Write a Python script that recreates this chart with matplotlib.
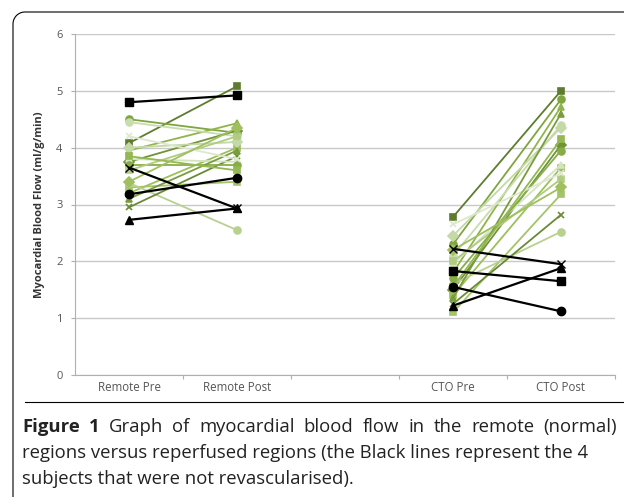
import matplotlib.pyplot as plt
from matplotlib.lines import Line2D
import numpy as np

categories = ['Remote Pre', 'Remote Post', '', 'CTO Pre', 'CTO Post']

# revascularised subjects (green)
remote_pre = [4.08, 4.50, 3.95, 4.45, 3.75, 3.20, 3.30, 3.38, 2.95, 3.80, 4.00, 3.70, 3.60, 3.10, 4.20, 3.85, 3.40]
remote_post = [5.08, 4.26, 4.43, 4.20, 4.30, 4.00, 3.40, 2.55, 3.85, 3.75, 4.10, 3.70, 4.20, 3.95, 3.80, 3.60, 4.35]
cto_pre = [2.78, 2.30, 1.80, 2.10, 1.50, 1.40, 1.10, 1.60, 1.25, 1.95, 2.45, 1.70, 2.00, 1.35, 2.65, 1.55, 2.20]
cto_post = [5.00, 4.85, 4.72, 4.40, 4.05, 3.65, 3.18, 2.52, 2.82, 3.70, 4.35, 3.95, 3.45, 4.60, 3.55, 4.15, 3.30]
green_colors = ['#5d7c2e', '#7ea63e', '#8fb54a', '#c9dcae', '#6e9436', '#9cc05a', '#a4c46a', '#b8d090',
                '#6a8a38', '#d4e4c0', '#c4d8a8', '#88ac48', '#b0cc80', '#7a9c40', '#dde8cc', '#94b852', '#a0c060']
green_markers = ['s', 'o', '^', 'o', 'D', 's', 's', 'o', 'x', '^', 'D', 'o', 's', '^', 'x', 's', 'D']

# not revascularised (black)
blk_remote_pre = [4.80, 3.18, 2.73, 3.65]
blk_remote_post = [4.92, 3.47, 2.93, 2.93]
blk_cto_pre = [1.83, 1.55, 1.22, 2.22]
blk_cto_post = [1.65, 1.12, 1.88, 1.95]
blk_markers = ['s', 'o', '^', 'x']

W, H = 624, 497
fig = plt.figure(figsize=(W / 100, H / 100), dpi=100)
ax = fig.add_axes([75 / W, 1 - 375 / H, 540 / W, 341 / H])

for i in range(len(remote_pre)):
    for xs, ys in (([0, 1], [remote_pre[i], remote_post[i]]), ([3, 4], [cto_pre[i], cto_post[i]])):
        ax.plot(xs, ys, color=green_colors[i], marker=green_markers[i], ms=5, lw=1.3,
                mew=1.2, zorder=2)

for i in range(len(blk_remote_pre)):
    for xs, ys in (([0, 1], [blk_remote_pre[i], blk_remote_post[i]]), ([3, 4], [blk_cto_pre[i], blk_cto_post[i]])):
        ax.plot(xs, ys, color='black', marker=blk_markers[i], ms=6, lw=1.6, mew=1, zorder=3)

ax.set_xlim(-0.5, 4.5)
ax.set_ylim(0, 6)
ax.set_yticks(range(7))
ax.yaxis.grid(True, color='#c8c8c8', lw=1)
ax.set_axisbelow(True)
for s in ['top', 'right']:
    ax.spines[s].set_visible(False)
for s in ['left', 'bottom']:
    ax.spines[s].set_color('#b0b0b0')
ax.set_xticks(np.arange(0.5, 5, 1))
ax.set_xticklabels([])
ax.set_xticks(range(5), minor=True)
ax.set_xticklabels(categories, minor=True, fontsize=8.3, color='#555555', family='Open Sans')
ax.tick_params(axis='x', which='major', length=3, color='#b0b0b0')
ax.tick_params(axis='x', which='minor', length=0, pad=4)
ax.tick_params(axis='y', length=3, color='#b0b0b0', labelsize=8, labelcolor='#555555', pad=6)
for lab in ax.get_yticklabels():
    lab.set_family('Open Sans')
ax.set_ylabel('Myocardial Blood Flow (ml/g/min)', fontsize=8, fontweight='bold',
              color='#333333', family='Open Sans', labelpad=8)

# frame around figure
r = 12
t = np.linspace(np.pi, 1.5 * np.pi, 20)
arc_x = 13 + r + r * np.cos(t)
arc_y = 12 + r + r * np.sin(t)
fx = np.concatenate([[13], arc_x, [W]])
fy = np.concatenate([[H], arc_y, [12]])
fig.add_artist(Line2D(fx / W, 1 - fy / H, color='black', lw=0.8))
fig.add_artist(Line2D([25 / W, 1], [1 - 402 / H] * 2, color='black', lw=0.8))

# caption, first line justified
renderer = fig.canvas.get_renderer()
cap_kw = dict(fontsize=13.3, family='Open Sans', color='#222222', va='baseline')

def justified(words, y, x0, x1):
    texts = []
    for w, bold in words:
        texts.append(fig.text(0, 1 - y / H, w, fontweight='bold' if bold else 'normal', **cap_kw))
    widths = [t.get_window_extent(renderer).width for t in texts]
    gap = (x1 - x0 - sum(widths)) / (len(texts) - 1)
    x = x0
    for t, wd in zip(texts, widths):
        t.set_x(x / W)
        x += wd + gap

line1 = [('Figure', True), ('1', True)] + [(w, False) for w in
         'Graph of myocardial blood flow in the remote (normal)'.split()]
justified(line1, 432, 22, 617)
fig.text(22 / W, 1 - 458 / H, 'regions versus reperfused regions (the Black lines represent the 4', **cap_kw)
fig.text(22 / W, 1 - 484 / H, 'subjects that were not revascularised).', **cap_kw)

fig.savefig('out.png', dpi=100)
